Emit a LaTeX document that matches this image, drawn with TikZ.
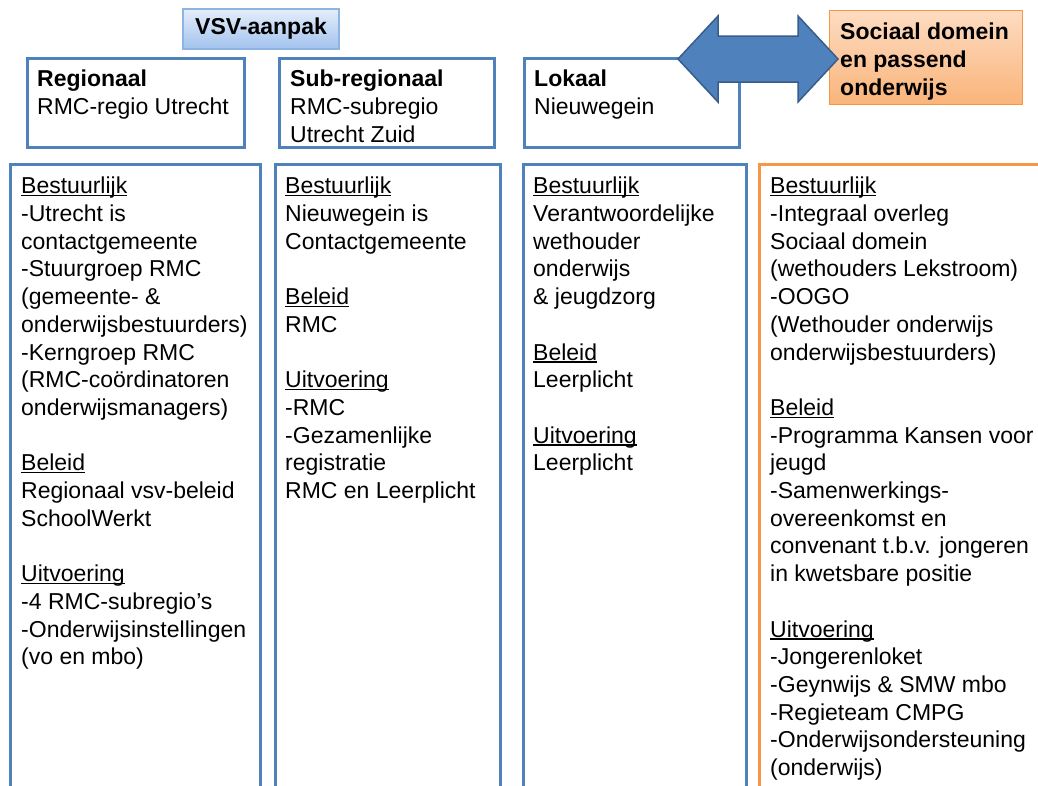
\documentclass[tikz,border=0pt]{standalone}
\usepackage{fontspec}
\setmainfont{Liberation Sans}
\definecolor{kaderblauw}{HTML}{4F81BD}
\definecolor{pijlrand}{HTML}{385D8A}
\definecolor{kaderoranje}{HTML}{F79646}
\definecolor{vsvrand}{HTML}{8EB4E3}
\definecolor{vsvlicht}{HTML}{E4EEFA}
\definecolor{vsvdonker}{HTML}{A2C2EE}
\definecolor{oranjelicht}{HTML}{FDDCC2}
\definecolor{oranjedonker}{HTML}{FAB47A}
\newcommand{\rubriek}[1]{\setbox0=\hbox{#1}\rlap{\rule[-2.6pt]{\wd0}{1.4pt}}\box0}
\tikzset{every picture/.style={x=1pt,y=-1pt},
  kader/.style={draw=kaderblauw, line width=2.6pt, anchor=north west, inner sep=0pt},
  oranjekader/.style={draw=kaderoranje, line width=2.6pt, anchor=north west, inner sep=0pt},
  tekst/.style={anchor=north west, align=left, inner sep=0pt, font=\fontsize{23}{27.7}\selectfont},
  vsvkop/.style={draw=vsvrand, line width=1.2pt, top color=vsvlicht, bottom color=vsvdonker,
    minimum width=156, minimum height=40, inner sep=0pt, font=\fontsize{23}{27.7}\selectfont\bfseries},
  sociaalkop/.style={draw=kaderoranje, line width=1.2pt, top color=oranjelicht, bottom color=oranjedonker,
    minimum width=193, minimum height=94, anchor=north west, inner sep=0pt}}

\begin{document}
\begin{tikzpicture}
  \clip (0,0) rectangle (1038,785);
  \fill[white] (0,0) rectangle (1038,785);

  % kolommen
  \node[kader, minimum width=250, minimum height=680] (kolom1) at (9,163) {};
  \node[kader, minimum width=225, minimum height=680] (kolom2) at (274,163) {};
  \node[kader, minimum width=223, minimum height=680] (kolom3) at (522,163) {};
  \node[oranjekader, minimum width=320, minimum height=680] (kolom4) at (758,163) {};

  % niveaus
  \node[kader, minimum width=217, minimum height=89] (regio) at (26,57) {};
  \node[kader, minimum width=215, minimum height=89] (subregio) at (278,57) {};
  \node[kader, minimum width=215, minimum height=89] (lokaal) at (523,57) {};
  \node[sociaalkop] (sociaal) at (829,10) {};
  \node[vsvkop] (vsv) at (261,29) {VSV-aanpak};

  \fill[kaderblauw, draw=pijlrand, line width=1.5pt] (678,59) -- (718,16) -- (718,36) -- (798,36)
    -- (798,16) -- (838,59) -- (798,102) -- (798,82) -- (718,82) -- (718,102) -- cycle;

  \node[tekst] (regiotekst) at (37,70) {\textbf{Regionaal}\\RMC-regio Utrecht};
  \node[tekst] (subregiotekst) at (290,70) {\textbf{Sub-regionaal}\\RMC-subregio\\Utrecht Zuid};
  \node[tekst] (lokaaltekst) at (534,70) {\textbf{Lokaal}\\Nieuwegein};
  \node[tekst, font=\fontsize{23}{27.7}\selectfont\bfseries] (sociaaltekst) at (840,23)
    {Sociaal domein\\en passend\\onderwijs};

  \node[tekst] (tekst1) at (21,177) {\rubriek{Bestuurlijk}\\-Utrecht is\\contactgemeente\\
    -Stuurgroep RMC\\(gemeente- \&\\onderwijsbestuurders)\\-Kerngroep RMC\\
    (RMC-coördinatoren\\onderwijsmanagers)\\[\baselineskip]
    \rubriek{Beleid}\\Regionaal vsv-beleid\\SchoolWerkt\\[\baselineskip]
    \rubriek{Uitvoering}\\-4 RMC-subregio’s\\-Onderwijsinstellingen\\(vo en mbo)};
  \node[tekst] (tekst2) at (285,177) {\rubriek{Bestuurlijk}\\Nieuwegein is\\Contactgemeente\\[\baselineskip]
    \rubriek{Beleid}\\RMC\\[\baselineskip]
    \rubriek{Uitvoering}\\-RMC\\-Gezamenlijke\\registratie\\RMC en Leerplicht};
  \node[tekst] (tekst3) at (533,177) {\rubriek{Bestuurlijk}\\Verantwoordelijke\\wethouder\\onderwijs\\
    \& jeugdzorg\\[\baselineskip]
    \rubriek{Beleid}\\Leerplicht\\[\baselineskip]
    \rubriek{Uitvoering}\\Leerplicht};
  \node[tekst] (tekst4) at (770,177) {\rubriek{Bestuurlijk}\\-Integraal overleg\\Sociaal domein\\
    (wethouders Lekstroom)\\-OOGO\\(Wethouder onderwijs\\onderwijsbestuurders)\\[\baselineskip]
    \rubriek{Beleid}\\-Programma Kansen voor\\jeugd\\-Samenwerkings-\\overeenkomst en\\
    convenant t.b.v. jongeren\\in kwetsbare positie\\[\baselineskip]
    \rubriek{Uitvoering}\\-Jongerenloket\\-Geynwijs \& SMW mbo\\-Regieteam CMPG\\
    -Onderwijsondersteuning\\(onderwijs)};
\end{tikzpicture}
\end{document}
